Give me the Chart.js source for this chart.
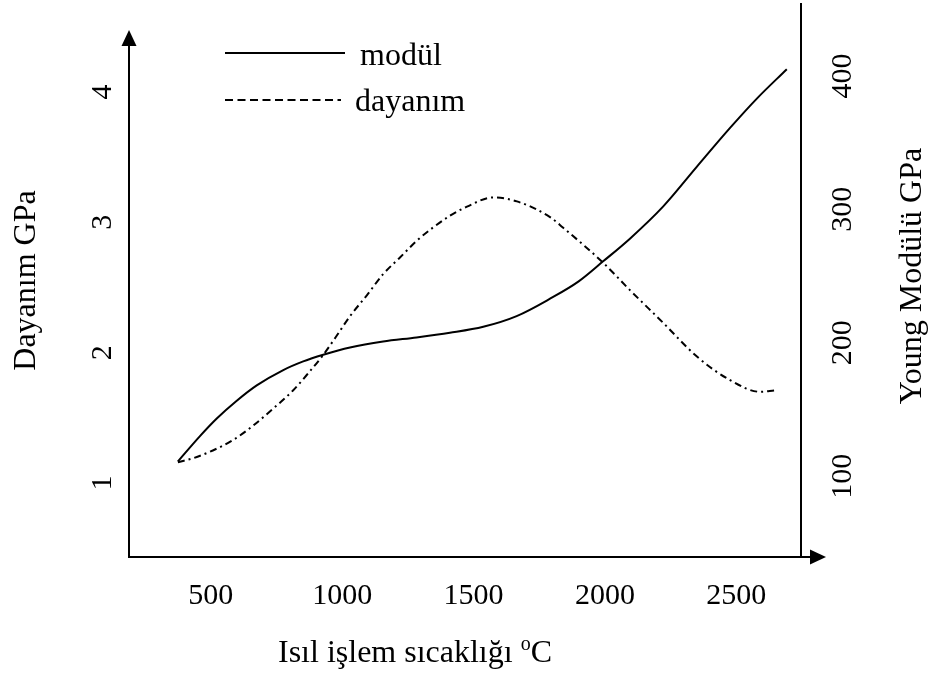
<!DOCTYPE html>
<html>
<head>
<meta charset="utf-8">
<script src="https://cdn.jsdelivr.net/npm/chart.js@4.4.0/dist/chart.umd.min.js"></script>
<style>
  html, body { margin: 0; padding: 0; background: #fff; }
  #wrap { width: 936px; height: 677px; position: relative; }
</style>
</head>
<body>
<div id="wrap"><canvas id="myChart"></canvas></div>
<script>
// values
var xTicks     = [500, 1000, 1500, 2000, 2500];
var leftTicks  = [1, 2, 3, 4];
var rightTicks = [100, 200, 300, 400];

// modül (Young modulus, right axis)
var modulX = [375, 459, 522, 599, 675, 776, 852, 928, 1030, 1156, 1283, 1410, 1537, 1664, 1791, 1900, 1993, 2095, 2221, 2350, 2476, 2578, 2692];
var modulY = [111, 130, 143, 156.5, 168, 179.5, 186, 191, 196.5, 201, 204, 207.5, 212, 220, 233, 246, 261, 278, 302, 332, 361, 383, 405];

// dayanım (strength, left axis)
var dayanimX = [375, 432, 508, 585, 661, 737, 813, 870, 927, 976, 1030, 1094, 1155, 1220, 1285, 1346, 1410, 1475, 1574, 1665, 1791, 1840, 1993, 2095, 2221, 2350, 2476, 2590, 2645];
var dayanimY = [1.16, 1.19, 1.25, 1.33, 1.44, 1.57, 1.71, 1.84, 1.98, 2.12, 2.28, 2.44, 2.60, 2.73, 2.86, 2.96, 3.05, 3.12, 3.19, 3.16, 3.04, 2.96, 2.69, 2.48, 2.23, 1.97, 1.79, 1.70, 1.71];

var serif = 'Liberation Serif';
Chart.defaults.font.family = serif;
Chart.defaults.color = '#000';

function toPoints(xs, ys) {
    var out = [];
    for (var i = 0; i < xs.length; i++) {
        out.push({ x: xs[i], y: ys[i] });
    }
    return out;
}

function setTicks(list) {
    return function(scale) {
        scale.ticks = list.map(function(v) { return { value: v }; });
    };
}

// fixed box sizes so the plot area sits where the figure has it
function fixSize(w, h) {
    return function(s) {
        if (w) s.width = w;
        if (h) s.height = h;
        s.paddingTop = 0;
        s.paddingBottom = 0;
        s.paddingLeft = 0;
        s.paddingRight = 0;
    };
}

// axis arrows, legend and the two titles chart.js can't place like the figure
var decor = {
    id: 'decor',
    afterDraw: function(chart) {
        var ctx = chart.ctx;
        var a = chart.chartArea;
        ctx.save();
        ctx.strokeStyle = '#000';
        ctx.fillStyle = '#000';
        ctx.lineWidth = 2;

        // left axis with arrow
        ctx.beginPath();
        ctx.moveTo(a.left, a.bottom + 1);
        ctx.lineTo(a.left, 44);
        ctx.stroke();
        ctx.beginPath();
        ctx.moveTo(a.left, 30);
        ctx.lineTo(a.left - 7.5, 46);
        ctx.lineTo(a.left + 7.5, 46);
        ctx.closePath();
        ctx.fill();

        // bottom axis runs past the right axis
        ctx.beginPath();
        ctx.moveTo(a.right, a.bottom);
        ctx.lineTo(812, a.bottom);
        ctx.stroke();
        ctx.beginPath();
        ctx.moveTo(826, a.bottom);
        ctx.lineTo(810, a.bottom - 7.5);
        ctx.lineTo(810, a.bottom + 7.5);
        ctx.closePath();
        ctx.fill();

        // legend
        var ds = chart.data.datasets;
        ctx.font = '32px "' + serif + '"';
        ctx.textAlign = 'left';
        ctx.textBaseline = 'alphabetic';
        ctx.setLineDash([]);
        ctx.beginPath();
        ctx.moveTo(a.left + 96, 53);
        ctx.lineTo(a.left + 216, 53);
        ctx.stroke();
        ctx.fillText(ds[0].label, a.left + 231, 65);
        ctx.setLineDash([8, 4.5]);
        ctx.beginPath();
        ctx.moveTo(a.left + 96, 100);
        ctx.lineTo(a.left + 212, 100);
        ctx.stroke();
        ctx.setLineDash([]);
        ctx.fillText(ds[1].label, a.left + 226, 111);

        // right axis title, reads bottom to top
        ctx.save();
        ctx.translate(913, 276);
        ctx.rotate(-Math.PI / 2);
        ctx.textAlign = 'center';
        ctx.textBaseline = 'middle';
        ctx.fillText('Young Modülü GPa', 0, 0);
        ctx.restore();

        // x axis title with superscript o
        var p1 = 'Isıl işlem sıcaklığı ';
        var p2 = 'o';
        var p3 = 'C';
        ctx.font = '32px "' + serif + '"';
        var w1 = ctx.measureText(p1).width;
        var w3 = ctx.measureText(p3).width;
        ctx.font = '20px "' + serif + '"';
        var w2 = ctx.measureText(p2).width;
        var x0 = 415 - (w1 + w2 + w3) / 2;
        var base = 662;
        ctx.font = '32px "' + serif + '"';
        ctx.fillText(p1, x0, base);
        ctx.font = '20px "' + serif + '"';
        ctx.fillText(p2, x0 + w1, base - 12);
        ctx.font = '32px "' + serif + '"';
        ctx.fillText(p3, x0 + w1 + w2, base);
        ctx.restore();
    }
};

function plain(v) { return String(v); }

var ctx = document.getElementById('myChart').getContext('2d');
var myChart = new Chart(ctx, {
    type: 'line',
    data: {
        datasets: [{
            label: 'modül',
            data: toPoints(modulX, modulY),
            yAxisID: 'y1',
            borderColor: '#000',
            borderWidth: 2,
            pointRadius: 0,
            fill: false,
            cubicInterpolationMode: 'monotone'
        }, {
            label: 'dayanım',
            data: toPoints(dayanimX, dayanimY),
            yAxisID: 'y',
            borderColor: '#000',
            borderWidth: 2,
            borderDash: [7, 4, 2, 4],
            pointRadius: 0,
            fill: false,
            cubicInterpolationMode: 'monotone'
        }]
    },
    options: {
        responsive: true,
        maintainAspectRatio: false,
        animation: false,
        layout: { padding: { top: 4, left: 0, right: 0, bottom: 0 } },
        plugins: {
            legend: { display: false },
            tooltip: { enabled: false }
        },
        scales: {
            x: {
                type: 'linear',
                min: 189,
                max: 2746,
                afterBuildTicks: setTicks(xTicks),
                afterFit: fixSize(0, 120),
                grid: { display: false },
                border: { display: true, color: '#000', width: 2 },
                ticks: { font: { size: 30, family: serif }, color: '#000', padding: 13, autoSkip: false,
                         maxRotation: 0, callback: plain }
            },
            y: {
                position: 'left',
                min: 0.433,
                max: 4.674,
                afterBuildTicks: setTicks(leftTicks),
                afterFit: fixSize(129, 0),
                grid: { display: false },
                border: { display: false },
                ticks: { font: { size: 30, family: serif }, color: '#000', padding: 10, autoSkip: false,
                         minRotation: 90, maxRotation: 90, crossAlign: 'center', callback: plain },
                title: { display: true, text: 'Dayanım GPa', color: '#000',
                         font: { size: 32, family: serif }, padding: { top: 7, bottom: 0 } }
            },
            y1: {
                position: 'right',
                min: 39.4,
                max: 453.9,
                afterBuildTicks: setTicks(rightTicks),
                afterFit: fixSize(135, 0),
                grid: { display: false },
                border: { display: true, color: '#000', width: 2 },
                ticks: { font: { size: 30, family: serif }, color: '#000', padding: 12, autoSkip: false,
                         minRotation: 90, maxRotation: 90, crossAlign: 'center', callback: plain }
            }
        }
    },
    plugins: [decor]
});
</script>
</body>
</html>
